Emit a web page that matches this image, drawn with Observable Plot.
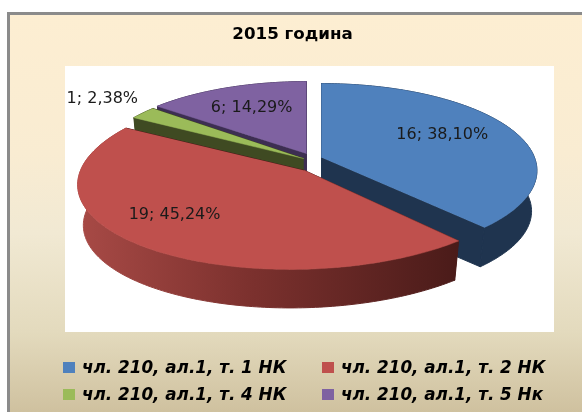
<!DOCTYPE html>
<html><head><meta charset="utf-8">
<script src="https://cdn.jsdelivr.net/npm/d3@7"></script>
<script src="https://cdn.jsdelivr.net/npm/@observablehq/plot@0.6"></script>
<style>
html,body{margin:0;padding:0;background:#fff;}
#frame{position:absolute;left:7px;top:12px;width:575px;height:400px;box-sizing:border-box;border-left:3px solid #8b8b8b;border-top:3px solid #8b8b8b;
background:linear-gradient(180deg,#fdeed2 0%,#f9ecd2 35%,#f1e9d3 55%,#e3dabd 80%,#cfc19f 100%);overflow:hidden;filter:blur(.35px);}
#title{position:absolute;left:0;width:565px;top:8px;text-align:center;font:bold 16.7px "DejaVu Sans",sans-serif;color:#000;}
#plot{position:absolute;left:55px;top:51px;}
#plot svg{display:block;}
.lg{position:absolute;font:italic bold 16.8px "DejaVu Sans",sans-serif;color:#000;white-space:nowrap;line-height:20px;}
.sw{position:absolute;width:12px;height:11px;}
</style></head><body>
<div id="frame"><div id="title"></div><div id="plot"></div></div>
<script>
const titleText = "2015 година";
const categories = ["чл. 210, ал.1, т. 1 НК","чл. 210, ал.1, т. 2 НК","чл. 210, ал.1, т. 4 НК","чл. 210, ал.1, т. 5 Нк"];
const values = [16,19,1,6];
const percents = ["38,10%","45,24%","2,38%","14,29%"];
const colors = ["#4f81bd","#bf504d","#9bbb59","#7f62a1"];
const wallColors = ["#1f344f","url(#redWall)","#3f4a22","#3d2e52"];

// layout of each exploded slice: apex, radii, perspective, skew, label placement
const layout = [
  {cx:321,cy:157,R:213,S:85,k:.15,s:0,lr:.63,dx:0,dy:-5},
  {cx:304,cy:170,R:224,S:89,k:.10,s:-13,lr:.7,dx:-19,dy:-8},
  {cx:303,cy:158,R:211,S:88,k:.154,s:0,lr:1.17,dx:-16,dy:-8},
  {cx:306,cy:153,R:209,S:83,k:.154,s:0,lr:.66,dx:0,dy:-1}
];
const depth = 41, shrink = .975;

const arcs = d3.pie().sort(null).startAngle(0).endAngle(2*Math.PI)(values);

function proj(L, a, r=1, bottom=false){
  const X = r*Math.sin(a), Y = -r*Math.cos(a), w = 1 - L.k*Y;
  const f = bottom ? shrink : 1;
  return {x: L.cx + f*(L.R*X + L.s*Y)/w, y: L.cy + L.S*Y/w*f + (bottom?depth:0)};
}
function arcPts(L,a0,a1,bottom=false){
  const n = Math.max(2,Math.ceil(Math.abs(a1-a0)/(Math.PI/180)));
  return d3.range(n+1).map(i=>proj(L,a0+(a1-a0)*i/n,1,bottom));
}
const apex = (L,b)=>({x:L.cx,y:L.cy+(b?depth:0)});
function topFace(L,d){return [apex(L),...arcPts(L,d.startAngle,d.endAngle)];}
function rimFace(L,d){return [...arcPts(L,d.startAngle,d.endAngle),...arcPts(L,d.endAngle,d.startAngle,true)];}
function cutFace(L,a){return [apex(L),proj(L,a),proj(L,a,1,true),apex(L,true)];}

const poly = (pts,fill,sw=.5)=>Plot.line(pts,{x:"x",y:"y",fill,stroke:fill,strokeWidth:sw,curve:"linear"});

const marks = [];
marks.push(()=>{
  const s = d3.create("svg:g");
  const g = s.append("defs").append("linearGradient").attr("id","redWall");
  [[0,"#a84a46"],[.45,"#7c312e"],[1,"#4a1b19"]].forEach(([o,c])=>g.append("stop").attr("offset",o).attr("stop-color",c));
  return s.node();
});
// painter's order: back slices first, the big front slice last
[3,2,0,1].forEach(i=>{
  const L = layout[i], d = arcs[i];
  const cut = i===1?"#4a1b19":wallColors[i];
  marks.push(poly(cutFace(L,d.startAngle),cut,1));
  marks.push(poly(cutFace(L,d.endAngle),cut,1));
  marks.push(poly(rimFace(L,d),wallColors[i],1));
  marks.push(poly(topFace(L,d),colors[i]));
});
const labels = categories.map((c,i)=>{
  const L = layout[i], d = arcs[i];
  const p = proj(L,(d.startAngle+d.endAngle)/2,L.lr);
  return {x:p.x+L.dx,y:p.y+L.dy,text:`${values[i]}; ${percents[i]}`};
});
marks.push(Plot.text(labels,{x:"x",y:"y",text:"text",fontSize:16,fontFamily:"DejaVu Sans",fill:"#1a1a1a"}));

const chart = Plot.plot({
  width:489,height:266,margin:0,
  x:{domain:[65,554],range:[0,489],axis:null},
  y:{domain:[66,332],range:[0,266],axis:null},
  style:{background:"#fff",overflow:"hidden"},
  marks
});
document.getElementById("plot").appendChild(chart);
document.getElementById("title").textContent = titleText;

const frame = document.getElementById("frame");
const pos = [[53,342],[312,342],[53,369],[312,369]];
categories.forEach((c,i)=>{
  const sw=document.createElement("div");sw.className="sw";
  sw.style.left=pos[i][0]+"px";sw.style.top=(pos[i][1]+5)+"px";sw.style.background=colors[i];frame.appendChild(sw);
  const t=document.createElement("div");t.className="lg";t.textContent=c;
  t.style.left=(pos[i][0]+19)+"px";t.style.top=pos[i][1]+"px";frame.appendChild(t);
});
</script></body></html>
